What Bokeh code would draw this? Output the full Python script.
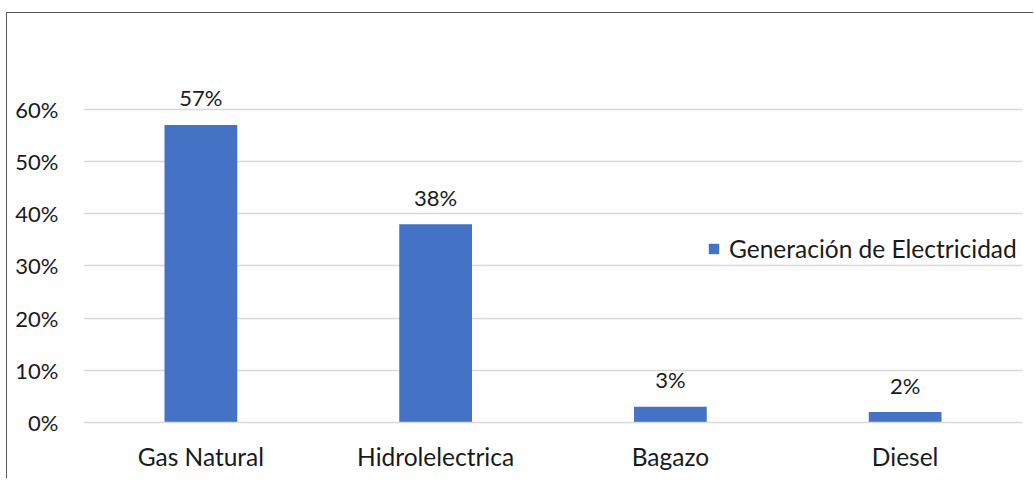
from bokeh.plotting import figure
from bokeh.models import (FactorRange, Range1d, FixedTicker, NumeralTickFormatter,
                          ColumnDataSource, Legend, LegendItem)
from bokeh.core.properties import value
from bokeh.embed import file_html
from bokeh.resources import INLINE

categories = ["Gas Natural", "Hidrolelectrica", "Bagazo", "Diesel"]
shares = [0.57, 0.38, 0.03, 0.02]
share_labels = ["57%", "38%", "3%", "2%"]
y_ticks = [0, 0.1, 0.2, 0.3, 0.4, 0.5, 0.6]
series_name = "Generación de Electricidad"

FONT = "Lato"
TXT = "#1a1a1a"
BAR = "#4472C4"
GRID = "#d9d9d9"

src = ColumnDataSource(dict(cat=categories, val=shares, lab=share_labels))

p = figure(x_range=FactorRange(*categories, range_padding=0),
           y_range=Range1d(0, 383 / 522),
           width=1027, height=466, margin=(12, 0, 0, 6),
           min_border_left=76, min_border_right=12, min_border_top=26,
           min_border_bottom=57,
           output_backend="svg", toolbar_location=None,
           background_fill_color="white", border_fill_color="white")
p.styles = {"border-top": "1.5px solid #595959", "border-left": "1.5px solid #595959"}
p.outline_line_color = None

r = p.vbar(x="cat", top="val", width=0.31, source=src, fill_color=BAR, line_color=None)

p.text(x="cat", y="val", text="lab", source=src, text_align="center",
       text_baseline="alphabetic", y_offset=-27, text_font=value(FONT),
       text_font_size="22px", text_color=TXT)

p.xgrid.grid_line_color = None
p.ygrid.grid_line_color = GRID
p.ygrid.grid_line_width = 1.5
p.ygrid.ticker = FixedTicker(ticks=y_ticks)

p.yaxis.ticker = FixedTicker(ticks=y_ticks)
p.yaxis.formatter = NumeralTickFormatter(format="0%")
p.yaxis.axis_line_color = None
p.yaxis.major_tick_line_color = None
p.yaxis.minor_tick_line_color = None
p.yaxis.major_tick_out = 0
p.yaxis.major_label_standoff = 25
p.yaxis.major_label_text_font = FONT
p.yaxis.major_label_text_font_size = "22px"
p.yaxis.major_label_text_color = TXT

p.xaxis.axis_line_color = GRID
p.xaxis.axis_line_width = 1.5
p.xaxis.major_tick_line_color = None
p.xaxis.minor_tick_line_color = None
p.xaxis.major_tick_out = 0
p.xaxis.major_label_standoff = 19
p.xaxis.major_label_text_font = FONT
p.xaxis.major_label_text_font_size = "24.5px"
p.xaxis.major_label_text_color = TXT

legend = Legend(items=[LegendItem(label=series_name, renderers=[r])],
                location=(624, 159), orientation="vertical",
                glyph_width=13, glyph_height=13, label_standoff=9,
                padding=12, margin=0, spacing=0,
                label_text_font=FONT, label_text_font_size="24.5px",
                label_text_color=TXT, border_line_color=None,
                background_fill_color="white", background_fill_alpha=0.75)
p.add_layout(legend, "center")

open("out.html", "w").write(file_html(p, INLINE))
